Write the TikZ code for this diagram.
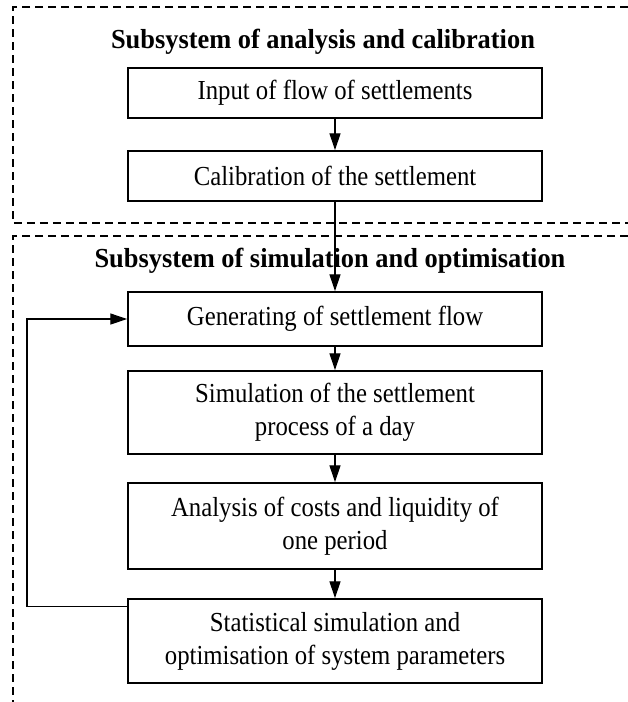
\documentclass[tikz,border=0pt]{standalone}
\usepackage{fontspec}
\setmainfont{Liberation Serif}
\newfontfamily\bodyfont[FakeStretch=0.9]{Liberation Serif}
\newfontfamily\titlefont[FakeStretch=0.96]{Liberation Serif}
\usetikzlibrary{arrows.meta}
\begin{document}
\begin{tikzpicture}[x=1pt,y=-1pt,
  box/.style={draw, line width=1.5pt, minimum width=414pt, align=center,
    font=\bodyfont\fontsize{27.5}{33}\selectfont, inner sep=0pt},
  ttl/.style={font=\titlefont\bfseries\fontsize{27.5}{30}\selectfont, inner sep=0pt},
  flow/.style={line width=1.3pt, -{Triangle[length=17pt,width=11pt]}},
  region/.style={line width=1.1pt, dash pattern=on 8pt off 5pt}]
\useasboundingbox (0,0) rectangle (628,702);
\clip (0,0) rectangle (628,702);
% regions
\draw[region] (628,7) -- (13,7) -- (13,223) -- (628,223);
\draw[region] (628,236) -- (13,236) -- (13,702);
% titles
\node[ttl] (t1) at (323,42) {Subsystem of analysis and calibration};
\node[ttl] (t2) at (330,261) {Subsystem of simulation and optimisation};
% boxes
\node[box, minimum height=50pt] (b1) at (335,93) {Input of flow of settlements};
\node[box, minimum height=50pt] (b2) at (335,176) {Calibration of the settlement};
\node[box, minimum height=54pt] (b3) at (335,319) {Generating of settlement flow};
\node[box, minimum height=83pt] (b4) at (335,412.5) {Simulation of the settlement\\process of a day};
\node[box, minimum height=86pt] (b5) at (335,526) {Analysis of costs and liquidity of\\one period};
\node[box, minimum height=84pt] (b6) at (335,641) {Statistical simulation and\\optimisation of system parameters};
% connectors
\draw[flow] (b1) -- (b2);
\draw[flow] (b2) -- (b3);
\draw[flow] (b3) -- (b4);
\draw[flow] (b4) -- (b5);
\draw[flow] (b5) -- (b6);
\coordinate (fb) at (27,319);
\draw[flow] ([yshift=-8pt]b6.north west) -| (fb) -- (b3.west);
\end{tikzpicture}
\end{document}
